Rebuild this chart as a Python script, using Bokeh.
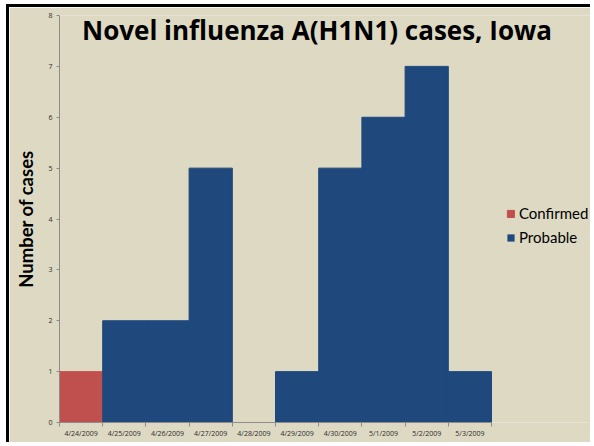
from bokeh.plotting import figure
from bokeh.models import (ColumnDataSource, Range1d, FixedTicker, Legend, LegendItem,
                          Label)
from bokeh.embed import file_html
from bokeh.resources import INLINE

dates = ["4/24/2009", "4/25/2009", "4/26/2009", "4/27/2009", "4/28/2009",
         "4/29/2009", "4/30/2009", "5/1/2009", "5/2/2009", "5/3/2009"]
confirmed = [1, 0, 0, 0, 0, 0, 0, 0, 0, 0]
probable = [0, 2, 2, 5, 0, 1, 5, 6, 7, 1]
y_ticks = [0, 1, 2, 3, 4, 5, 6, 7, 8]
series = ["Confirmed", "Probable"]
colors = ["#C0504D", "#1F497D"]

BG = "#DDD9C3"
n = len(dates)
xs = list(range(n))
source = ColumnDataSource(dict(
    x=xs, Confirmed=confirmed, Probable=probable,
    Confirmed_la=[1 if v > 0 else 0 for v in confirmed],
    Probable_la=[1 if v > 0 else 0 for v in probable]))

BORDER = 3
W, H = 584, 438
LEFT, TOP, BOTTOM = 50, 8, 23
CAT_PX = 43.2
frame_w = W - LEFT
x_end = -0.5 + frame_w / CAT_PX   # frame runs to the right edge (title/legend sit over it)

p = figure(width=W, height=H, output_backend="svg", toolbar_location=None,
           x_range=Range1d(-0.5, x_end), y_range=Range1d(0, 8),
           min_border_left=LEFT, min_border_top=TOP, min_border_bottom=BOTTOM,
           min_border_right=0)
p.styles = {"border-left": f"{BORDER}px solid black", "border-top": f"{BORDER}px solid black",
            "margin-left": "6px", "margin-top": "4px"}
p.background_fill_color = BG
p.border_fill_color = BG
p.outline_line_color = None
p.grid.visible = False

renderers = p.vbar_stack(series, x="x", width=1.0, source=source,
                         fill_color=colors, line_color=colors, line_width=1,
                         line_alpha=["Confirmed_la", "Probable_la"])

# x axis: labels at centres, ticks at boundaries
xa = p.xaxis[0]
xa.bounds = (-0.5, n - 0.5)
xa.ticker = FixedTicker(ticks=xs, minor_ticks=[i - 0.5 for i in range(n + 1)])
xa.major_label_overrides = {i: d for i, d in enumerate(dates)}
xa.major_tick_out = 0
xa.major_tick_in = 0
xa.minor_tick_out = 4
xa.minor_tick_in = 0
xa.minor_tick_line_color = "#8C8C8C"
xa.axis_line_color = "#8C8C8C"
xa.major_label_text_font = "Open Sans"
xa.major_label_text_font_size = "7px"
xa.major_label_text_color = "#2B2B2B"
xa.major_label_standoff = 2

ya = p.yaxis[0]
ya.ticker = FixedTicker(ticks=y_ticks)
ya.major_tick_out = 3
ya.major_tick_in = 0
ya.minor_tick_line_color = None
ya.major_tick_line_color = "#8C8C8C"
ya.axis_line_color = "#8C8C8C"
ya.major_label_text_font = "Open Sans"
ya.major_label_text_font_size = "7px"
ya.major_label_text_color = "#2B2B2B"
ya.major_label_standoff = 4
ya.axis_label = "Number of cases"
ya.axis_label_text_font = "Lato"
ya.axis_label_text_font_style = "bold"
ya.axis_label_text_font_size = "18.5px"
ya.axis_label_text_color = "black"
ya.axis_label_standoff = 8

title = Label(x=5.46, y=7.71, text="Novel influenza A(H1N1) cases, Iowa",
              text_align="center", text_baseline="alphabetic",
              text_font="Open Sans", text_font_style="bold", text_font_size="26px",
              text_color="black")
p.add_layout(title)

legend = Legend(items=[LegendItem(label=s, renderers=[r]) for s, r in zip(series, renderers)],
                location=(447, 176), background_fill_alpha=0, border_line_color=None,
                glyph_width=9, glyph_height=9, label_text_font="Lato",
                label_text_font_size="15px", label_text_color="black",
                margin=0, padding=0, spacing=6, label_standoff=4)
p.add_layout(legend)

open("out.html", "w").write(file_html(p, INLINE))
